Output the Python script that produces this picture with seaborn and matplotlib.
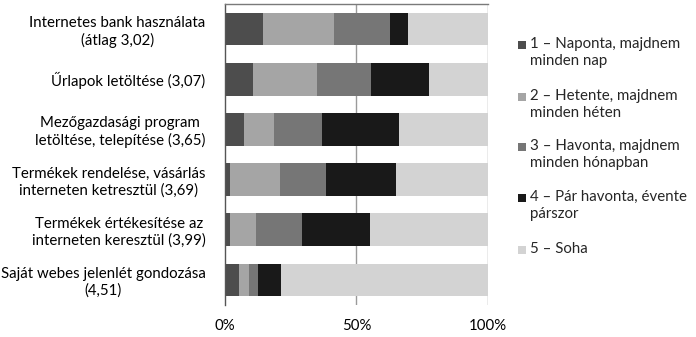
import matplotlib
matplotlib.use("Agg")
import matplotlib.pyplot as plt
import seaborn as sns
import pandas as pd
import numpy as np
from matplotlib.patches import Rectangle

categories = [
    "Internetes bank használata\n(átlag 3,02)",
    "Űrlapok letöltése (3,07)",
    "Mezőgazdasági program\nletöltése, telepítése (3,65)",
    "Termékek rendelése, vásárlás\ninterneten ketresztül (3,69)",
    "Termékek értékesítése az\ninterneten keresztül (3,99)",
    "Saját webes jelenlét gondozása\n(4,51)",
]
series_names = [
    "1 – Naponta, majdnem\nminden nap",
    "2 – Hetente, majdnem\nminden héten",
    "3 – Havonta, majdnem\nminden hónapban",
    "4 – Pár havonta, évente\npárszor",
    "5 – Soha",
]
s1 = [14.3, 10.8, 7.4, 1.8, 1.9, 5.5]
s2 = [27.1, 24.2, 11.4, 19.1, 9.8, 3.6]
s3 = [21.3, 20.6, 18.0, 17.5, 17.5, 3.5]
s4 = [7.1, 22.2, 29.3, 26.8, 26.1, 8.8]
s5 = [30.2, 22.2, 33.9, 34.8, 44.7, 78.6]
colors = ["#4d4d4d", "#a5a5a5", "#767676", "#191919", "#d3d3d3"]
xticks = [0, 50, 100]
xticklabels = ["0%", "50%", "100%"]

sns.set_theme(style="white")
plt.rcParams["font.family"] = ["Lato", "DejaVu Sans"]
FS = 10.8

fig = plt.figure(figsize=(6.96, 3.37), dpi=100)
ax = fig.add_axes([225/696, 32/337, 262.7/696, 301/337])

vals = np.array([s1, s2, s3, s4, s5])
totals = vals / vals.sum(axis=0) * 100
cum = np.cumsum(totals, axis=0)

for i in range(4, -1, -1):
    df = pd.DataFrame({"cat": categories, "val": cum[i]})
    sns.barplot(data=df, y="cat", x="val", orient="h", color=colors[i],
                saturation=1, width=0.65, ax=ax, linewidth=0)

ax.set_xlim(0, 100)
ax.set_ylim(5.5, -0.5)
ax.set_xticks(xticks)
ax.set_xticklabels(xticklabels, fontsize=FS, color="#000000")
ax.set_xlabel("")
ax.set_ylabel("")
for lbl in ax.get_yticklabels():
    lbl.set_multialignment("center")
    lbl.set_fontsize(FS)
    lbl.set_color("#000000")
ax.tick_params(axis="y", length=0, pad=14)
ax.tick_params(axis="x", length=0, pad=10)
for x in [50, 100]:
    ax.axvline(x, color="#9a9a9a", lw=1, zorder=0)
ax.set_axisbelow(True)
ax.spines["bottom"].set_visible(False)
ax.spines["left"].set_color("#555555")
ax.spines["left"].set_linewidth(1)
ax.spines["top"].set_color("#7a7a7a")
ax.spines["top"].set_linewidth(1)
ax.spines["right"].set_visible(False)

# legend
ys = [45, 97, 147, 198, 250]
for i, name in enumerate(series_names):
    y = ys[i]
    fig.patches.append(Rectangle((518/696, (337 - y - 4)/337), 8/696, 8/337,
                                 transform=fig.transFigure, facecolor=colors[i],
                                 edgecolor="none"))
    fig.text(530/696, (337 - y + 8)/337, name, fontsize=FS, va="top", ha="left",
             linespacing=1.3)

fig.savefig("out.png", dpi=100)
